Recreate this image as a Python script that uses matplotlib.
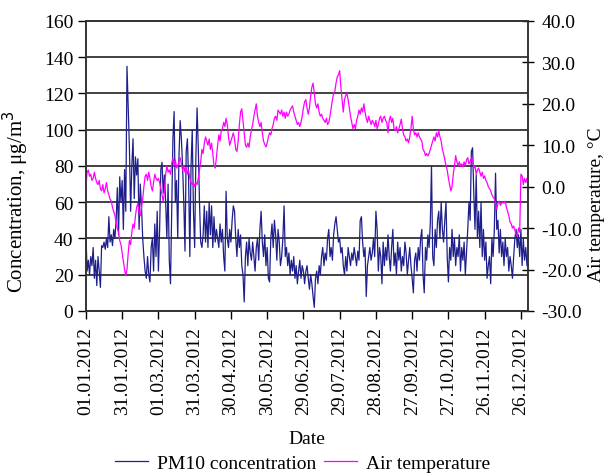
import numpy as np
import pandas as pd
import matplotlib
matplotlib.use("Agg")
import matplotlib.pyplot as plt
import matplotlib.dates as mdates

plt.rcParams['font.family'] = ['Liberation Serif', 'DejaVu Serif']

# daily PM10 concentration, ug/m3 (2012, month by month)
pm_jan = [42, 22, 28, 20, 30, 25, 35, 18, 28, 14, 30, 22, 13, 36, 35, 38, 34, 40, 35, 52, 38, 42, 36, 45, 40, 50, 68, 42, 74, 60, 72]
pm_feb = [45, 78, 55, 135, 112, 90, 55, 80, 95, 62, 85, 75, 84, 45, 70, 58, 40, 30, 22, 18, 30, 20, 16, 35, 40, 22, 48, 30, 55]
pm_mar = [22, 45, 78, 82, 65, 75, 60, 40, 70, 28, 15, 55, 95, 110, 60, 72, 40, 85, 105, 95, 80, 60, 33, 88, 95, 72, 30, 80, 100, 55, 35]
pm_apr = [85, 112, 90, 60, 38, 35, 42, 58, 38, 55, 35, 60, 42, 58, 35, 52, 38, 45, 40, 35, 48, 38, 45, 30, 22, 66, 40, 35, 45, 38]
pm_may = [50, 58, 55, 40, 30, 45, 35, 42, 25, 20, 5, 30, 38, 25, 40, 32, 28, 38, 30, 22, 35, 40, 28, 45, 55, 38, 30, 42, 25, 35, 18]
pm_jun = [16, 40, 48, 35, 50, 42, 28, 45, 38, 25, 30, 40, 58, 30, 35, 25, 32, 20, 28, 22, 30, 18, 25, 15, 22, 28, 18, 25, 22, 15]
pm_jul = [22, 25, 18, 12, 20, 15, 8, 2, 18, 22, 15, 25, 20, 30, 35, 25, 32, 28, 40, 45, 30, 35, 28, 42, 48, 52, 45, 38, 40, 32, 35]
pm_aug = [25, 20, 30, 22, 35, 30, 25, 32, 28, 35, 30, 25, 33, 28, 50, 52, 38, 30, 35, 8, 25, 30, 35, 28, 32, 40, 30, 55, 45, 22, 35]
pm_sep = [30, 15, 38, 25, 35, 28, 42, 30, 22, 35, 45, 25, 32, 20, 38, 28, 35, 22, 30, 25, 38, 32, 20, 28, 35, 25, 18, 10, 28, 32]
pm_oct = [22, 35, 28, 40, 45, 20, 10, 35, 28, 42, 35, 48, 80, 30, 25, 45, 35, 50, 55, 40, 60, 45, 38, 50, 60, 30, 16, 35, 28, 45, 30]
pm_nov = [40, 25, 35, 30, 42, 22, 35, 28, 38, 20, 32, 45, 60, 50, 88, 90, 65, 45, 75, 40, 55, 35, 60, 30, 45, 28, 38, 18, 25, 30]
pm_dec = [15, 40, 30, 45, 76, 45, 50, 32, 45, 30, 38, 25, 40, 30, 35, 22, 30, 25, 18, 30, 40, 45, 35, 42, 30, 45, 25, 40, 28, 35, 25]

# daily air temperature, deg C
t_jan = [0, 3.5, 4, 2.5, 3, 1.5, 2, 3.5, 2, 1, 0.5, 1.5, -0.5, -1, 0.5, -1.5, -0.5, 1, -1, -2, -3, -3.5, -5, -6, -7, -8.5, -10, -11, -13, -14, -16]
t_feb = [-18, -20, -21.5, -20, -16, -13, -14, -11, -9, -10, -7, -5, -4, -6, -7, -5, -3, 0, 2.5, 3, 1.5, 3.5, 2, 0, -1, 1, 3, 2, 1.5]
t_mar = [2, 1, -0.5, -2, -3.7, -1, 3, 5, 3.5, 4, 3, 5.5, 7, 5, 6.5, 4.5, 5, 6, 7, 5.5, 4, 5, 3.5, 4.5, 3, 4, 2, 1, 0.5, 1, 0]
t_apr = [1, 0.5, 2, 4, 6, 9, 8, 10.5, 12, 11, 10, 11.5, 9, 10.5, 8, 5, 4.5, 7, 10, 12.5, 11, 13.5, 14, 15.5, 14.5, 16.5, 15, 12, 10, 11]
t_may = [12, 13, 11.5, 9, 8.5, 11, 15, 18, 18.8, 16, 13, 10, 9.5, 10.5, 9.5, 12, 13.7, 15, 17, 18.5, 20, 17, 15.5, 14.5, 15.5, 13, 11, 10.2, 9.6, 10.5, 12]
t_jun = [13, 12.5, 14, 15, 16.5, 17, 16, 18.5, 18, 17.5, 18.5, 17, 18, 16.5, 18, 17, 17.5, 18.5, 19, 19.5, 18, 17, 16, 15, 15.5, 14.5, 15.5, 17, 19, 20.5]
t_jul = [21, 19, 17.5, 19, 22, 24, 25, 22.5, 20, 19, 20, 18, 17, 17.5, 16.5, 16, 15.5, 16.5, 15, 15.5, 17, 19, 21, 22.5, 23, 25, 26.5, 27, 28, 24, 21]
t_aug = [18, 21, 22, 22.5, 21, 19, 17, 15.5, 14, 15, 14, 16, 17, 18.5, 17.5, 19, 18, 20, 18, 16.5, 15.5, 17, 16, 15, 16, 15.5, 14.5, 16, 14, 15, 16.5]
t_sep = [17, 15.5, 16.5, 17, 16, 15.5, 13, 16, 17, 15.5, 16.5, 14, 13.5, 14.5, 13, 14, 15, 16.3, 14, 12.5, 12, 11, 11.5, 10.6, 12, 14, 17, 14, 12.5, 13]
t_oct = [12, 13, 12, 11.5, 11, 9, 8.5, 7.5, 8, 7.4, 8, 9, 10, 11, 12, 11, 13, 12, 13.5, 12, 11, 9, 8, 6.5, 5, 4, 2, 0.5, -1, 0, 3]
t_nov = [5, 7.5, 6, 5, 6, 5, 5.5, 4.8, 6, 5, 6.5, 7, 5.5, 6, 7, 6.5, 4.5, 5, 3, 4, 4.5, 3.5, 2.5, 3.5, 2, 2.6, 1.5, 1, 0, -0.5]
t_dec = [-1, -2, -2.5, -3, -4, -5.5, -4, -3.5, -4.5, -4, -3.7, -4, -3.5, -5, -6, -7, -8.5, -9, -10, -9.5, -10.5, -11.5, -12, -10, -11, 3, 2.6, 0.5, 2, 1, 2]

pm10 = pm_jan + pm_feb + pm_mar + pm_apr + pm_may + pm_jun + pm_jul + pm_aug + pm_sep + pm_oct + pm_nov + pm_dec
temp = t_jan + t_feb + t_mar + t_apr + t_may + t_jun + t_jul + t_aug + t_sep + t_oct + t_nov + t_dec
dates = pd.date_range("2012-01-01", "2012-12-31", freq="D")

fig = plt.figure(figsize=(6.05, 4.77), dpi=100)
ax = fig.add_axes([0.142, 0.346, 0.731, 0.608])
ax2 = ax.twinx()

l1, = ax.plot(dates, pm10, color='#1f1f8c', lw=0.9)
l2, = ax2.plot(dates, temp, color='#ff00ff', lw=0.9)

ax.set_xlim(dates[0], dates[0] + pd.Timedelta(days=366))
ax.set_ylim(0, 160)
ax.set_yticks(range(0, 161, 20))
ax2.set_ylim(-30, 40)
ax2.set_yticks(range(-30, 41, 10))
ax2.yaxis.set_major_formatter(matplotlib.ticker.FormatStrFormatter('%.1f'))

ax.set_xticks(dates[::30])
ax.xaxis.set_major_formatter(mdates.DateFormatter('%d.%m.%Y'))
for lab in ax.get_xticklabels():
    lab.set_rotation(90)

ax.grid(axis='y', color='#333333', lw=1.3)
ax.set_axisbelow(True)
ax.tick_params(axis='both', direction='out', length=6, width=1, labelsize=14, pad=3)
ax.tick_params(axis='x', pad=5)
ax2.tick_params(axis='y', direction='inout', length=9, width=1, labelsize=14, pad=5)
for a in (ax, ax2):
    for s in a.spines.values():
        s.set_color('#333333')
        s.set_linewidth(1.2)

ax.set_ylabel('Concentration, μg/m$^3$', fontsize=15)
ax.yaxis.set_label_coords(-0.125, 0.38)
ax2.set_ylabel('Air temperature, °C', fontsize=14)
ax2.yaxis.set_label_coords(1.136, 0.37)
ax.set_xlabel('Date', fontsize=14, labelpad=11)

fig.legend([l1, l2], ['PM10 concentration', 'Air temperature'], loc='center',
           bbox_to_anchor=(0.50, 0.027), ncol=2, frameon=False, fontsize=14,
           handlelength=1.7, handletextpad=0.45, columnspacing=0.4)

fig.savefig('out.png', dpi=100)
